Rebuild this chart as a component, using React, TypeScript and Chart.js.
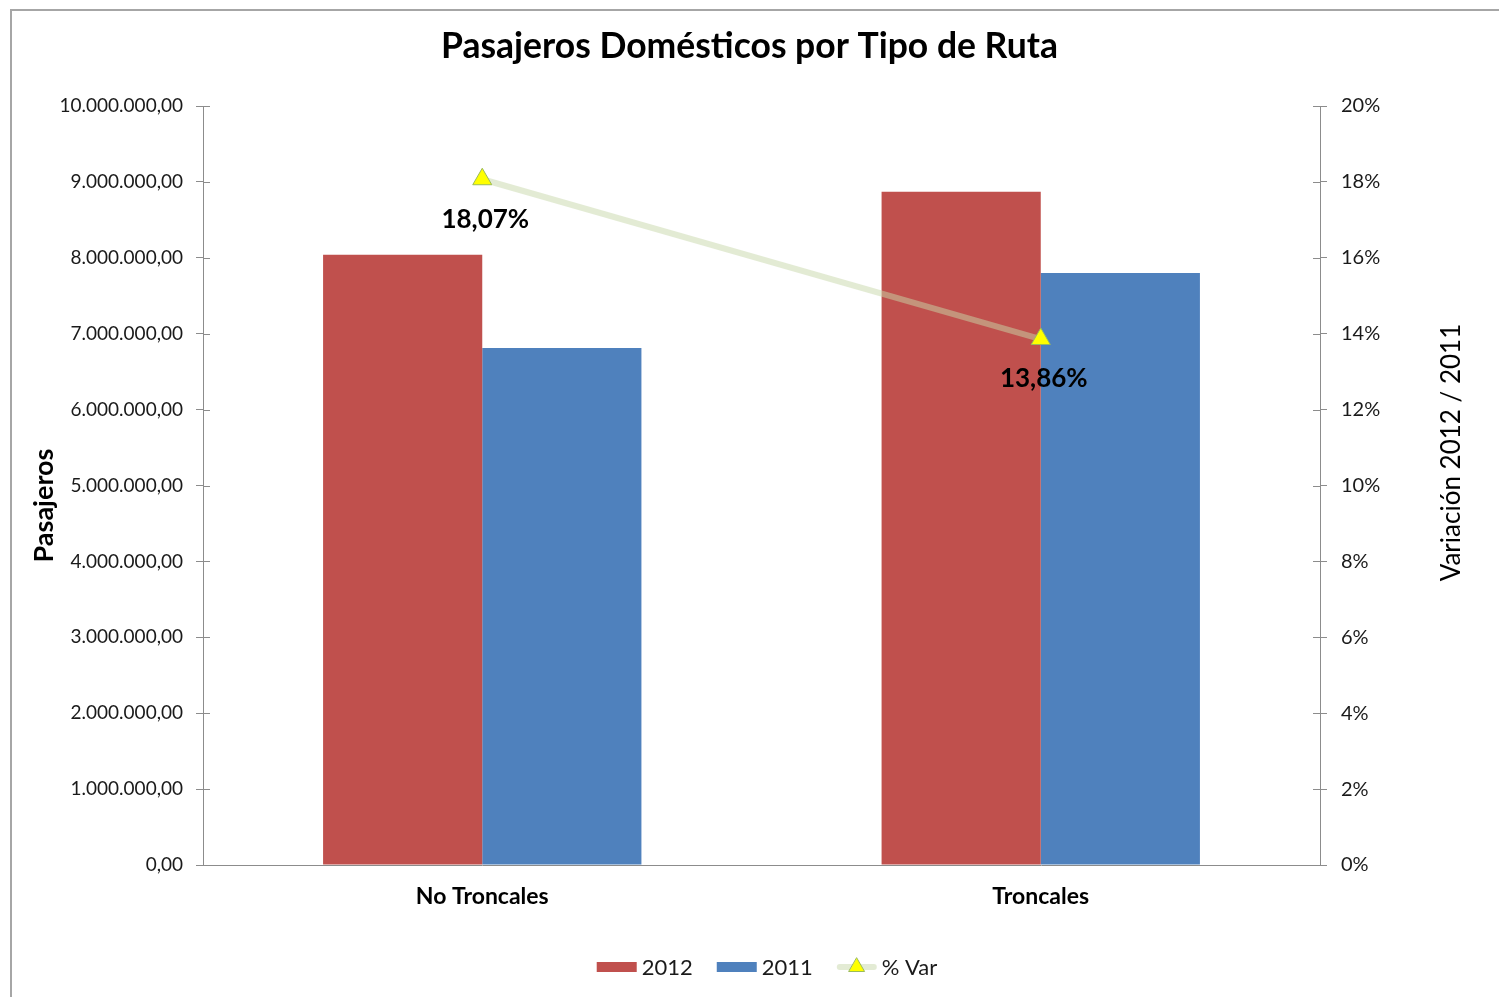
import { useEffect, useRef } from "react";
import { Chart, registerables } from "chart.js";

Chart.register(...registerables);

const categories = ["No Troncales", "Troncales"];
const values2012 = [8040000, 8870000];
const values2011 = [6810000, 7800000];
const pctVar = [18.07, 13.86];
const pctLabels = ["18,07%", "13,86%"];
const seriesNames = ["2012", "2011", "% Var"];
const titleText = "Pasajeros Domésticos por Tipo de Ruta";
const leftTitle = "Pasajeros";
const rightTitle = "Variación 2012 / 2011";

const RED = "#C0504D";
const BLUE = "#4F81BD";
const LINE = "rgba(200,216,170,0.5)";
const AXIS = "#8c8c8c";
const FONT = "Lato, 'Open Sans', sans-serif";

function fmtNum(v: number): string {
  const s = Math.round(v).toString().replace(/\B(?=(\d{3})+(?!\d))/g, ".");
  return s + ",00";
}

const W = 1499;
const H = 997;

export default function App() {
  const ref = useRef<HTMLCanvasElement | null>(null);

  useEffect(() => {
    const canvas = ref.current;
    if (!canvas) return;

    const extras = {
      id: "extras",
      beforeDraw(chart: any) {
        const ctx = chart.ctx;
        ctx.save();
        ctx.fillStyle = "#ffffff";
        ctx.fillRect(0, 0, W, H);
        ctx.fillStyle = "#a6a6a6";
        ctx.fillRect(10, 9, 2, H - 9);
        ctx.fillRect(10, 9, W - 10, 2);
        ctx.restore();
      },
      afterDatasetsDraw(chart: any) {
        const ctx = chart.ctx;
        const meta = chart.getDatasetMeta(2);
        ctx.save();
        ctx.fillStyle = "#000";
        ctx.font = `bold 26px ${FONT}`;
        ctx.textAlign = "center";
        ctx.textBaseline = "middle";
        meta.data.forEach((el: any, i: number) => {
          ctx.fillText(pctLabels[i], el.x + 3, el.y + 40);
        });
        ctx.restore();
      },
      afterDraw(chart: any) {
        const ctx = chart.ctx;
        const area = chart.chartArea;
        ctx.save();
        ctx.strokeStyle = AXIS;
        ctx.lineWidth = 1;
        const y = chart.scales.y;
        y.ticks.forEach((t: any) => {
          const py = Math.round(y.getPixelForValue(t.value)) + 0.5;
          ctx.beginPath();
          ctx.moveTo(area.left, py);
          ctx.lineTo(area.left + 7, py);
          ctx.stroke();
        });
        const y1 = chart.scales.y1;
        y1.ticks.forEach((t: any) => {
          const py = Math.round(y1.getPixelForValue(t.value)) + 0.5;
          ctx.beginPath();
          ctx.moveTo(area.right, py);
          ctx.lineTo(area.right - 7, py);
          ctx.stroke();
        });
        const midY = (area.top + area.bottom) / 2;
        ctx.fillStyle = "#000";
        ctx.textAlign = "center";
        ctx.textBaseline = "middle";
        ctx.save();
        ctx.translate(44, midY + 20);
        ctx.rotate(-Math.PI / 2);
        ctx.font = `bold 27px ${FONT}`;
        ctx.fillText(leftTitle, 0, 0);
        ctx.restore();
        ctx.save();
        ctx.translate(1452, midY - 33);
        ctx.rotate(-Math.PI / 2);
        ctx.font = `26px ${FONT}`;
        ctx.fillText(rightTitle, 0, 0);
        ctx.restore();

        ctx.font = `22px ${FONT}`;
        const boxW = 40;
        const gap = 5;
        const itemGap = 24;
        const widths = seriesNames.map((n) => boxW + gap + ctx.measureText(n).width);
        const total = widths.reduce((a, b) => a + b, 0) + itemGap * (seriesNames.length - 1);
        let x = 767 - total / 2;
        const ly = 967;
        ctx.textAlign = "left";
        seriesNames.forEach((n, i) => {
          if (i === 0 || i === 1) {
            ctx.fillStyle = i === 0 ? RED : BLUE;
            ctx.fillRect(x, ly - 5, boxW, 10);
          } else {
            ctx.strokeStyle = LINE;
            ctx.lineWidth = 6;
            ctx.lineCap = "round";
            ctx.beginPath();
            ctx.moveTo(x + 3, ly);
            ctx.lineTo(x + boxW - 3, ly);
            ctx.stroke();
            const cx = x + boxW / 2;
            const r = 9;
            ctx.beginPath();
            ctx.moveTo(cx, ly - r);
            ctx.lineTo(cx + r * 0.866, ly + r * 0.5);
            ctx.lineTo(cx - r * 0.866, ly + r * 0.5);
            ctx.closePath();
            ctx.fillStyle = "#FFFF00";
            ctx.fill();
            ctx.strokeStyle = "#9BBB59";
            ctx.lineWidth = 1;
            ctx.stroke();
          }
          ctx.fillStyle = "#1a1a1a";
          ctx.fillText(n, x + boxW + gap, ly + 1);
          x += widths[i] + itemGap;
        });
        ctx.restore();
      },
    };

    const chart = new Chart(canvas, {
      type: "bar",
      data: {
        labels: categories,
        datasets: [
          {
            type: "bar",
            label: seriesNames[0],
            data: values2012,
            backgroundColor: RED,
            yAxisID: "y",
            order: 1,
            categoryPercentage: 0.57,
            barPercentage: 1,
          },
          {
            type: "bar",
            label: seriesNames[1],
            data: values2011,
            backgroundColor: BLUE,
            yAxisID: "y",
            order: 1,
            categoryPercentage: 0.57,
            barPercentage: 1,
          },
          {
            type: "line",
            label: seriesNames[2],
            data: pctVar,
            borderColor: LINE,
            borderWidth: 6,
            backgroundColor: "#FFFF00",
            pointStyle: "triangle",
            pointRadius: 11,
            pointBorderColor: "#9BBB59",
            pointBorderWidth: 1,
            pointBackgroundColor: "#FFFF00",
            yAxisID: "y1",
            order: 0,
            tension: 0,
          } as any,
        ],
      },
      options: {
        responsive: false,
        animation: false,
        devicePixelRatio: 1,
        layout: { padding: { left: 0, right: 0, top: 0, bottom: 0 } },
        plugins: {
          legend: { display: false },
          tooltip: { enabled: false },
          title: {
            display: true,
            text: titleText,
            color: "#000",
            font: { family: FONT, size: 35.5, weight: "bold" },
            padding: { top: 25, bottom: 38.4 },
          },
        },
        scales: {
          x: {
            grid: { display: false, drawTicks: false },
            border: { color: AXIS, width: 1 },
            ticks: {
              color: "#000",
              font: { family: FONT, size: 23, weight: "bold" },
              padding: 18,
            },
            afterFit: (s: any) => {
              s.height = 132;
            },
          },
          y: {
            position: "left",
            min: 0,
            max: 10000000,
            grid: { drawOnChartArea: false, drawTicks: true, tickLength: 7, color: AXIS },
            border: { color: AXIS, width: 1 },
            ticks: {
              stepSize: 1000000,
              color: "#1a1a1a",
              font: { family: FONT, size: 19 },
              padding: 13,
              callback: (v: any) => fmtNum(Number(v)),
            },
            afterFit: (s: any) => {
              s.width = 203;
            },
          },
          y1: {
            position: "right",
            min: 0,
            max: 20,
            grid: { drawOnChartArea: false, drawTicks: true, tickLength: 7, color: AXIS },
            border: { color: AXIS, width: 1 },
            ticks: {
              stepSize: 2,
              color: "#1a1a1a",
              font: { family: FONT, size: 20 },
              padding: 14,
              callback: (v: any) => `${v}%`,
            },
            afterFit: (s: any) => {
              s.width = W - 1320;
            },
          },
        },
      },
      plugins: [extras],
    });

    return () => chart.destroy();
  }, []);

  return (
    <div style={{ position: "fixed", left: 0, top: 0, width: W, height: H, background: "#fff" }}>
      <canvas ref={ref} width={W} height={H} style={{ display: "block", width: W, height: H }} />
    </div>
  );
}
